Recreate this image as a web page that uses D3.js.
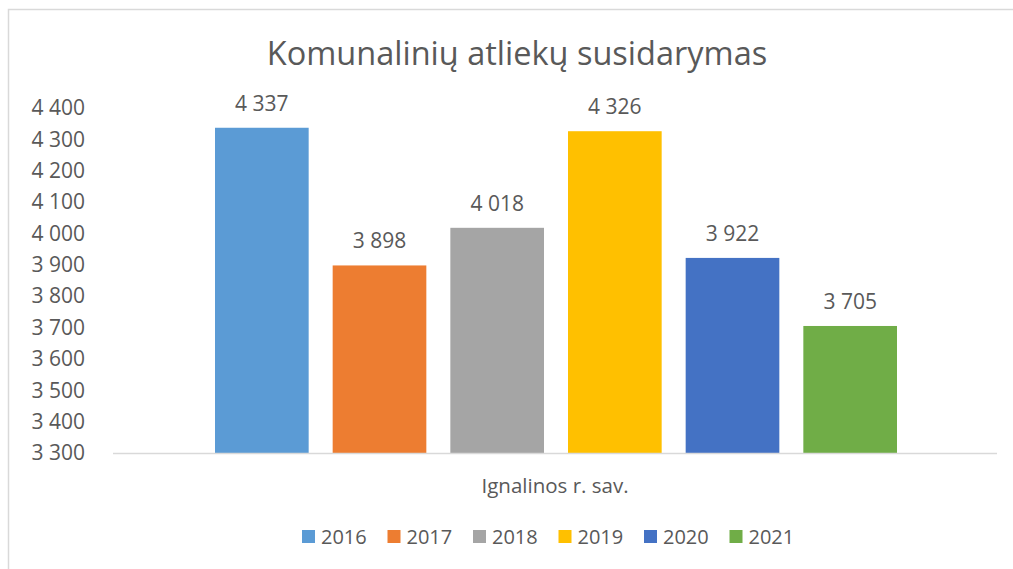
<!DOCTYPE html>
<html><head><meta charset="utf-8">
<script src="https://cdn.jsdelivr.net/npm/d3@7"></script>
<style>body{margin:0;background:#fff;} text{font-family:"Open Sans",sans-serif;fill:#595959;}</style>
</head><body>
<svg id="c" width="1013" height="569"></svg>
<script>
const title = "Komunalinių atliekų susidarymas";
const category = "Ignalinos r. sav.";
const years = ["2016","2017","2018","2019","2020","2021"];
const values = [4337, 3898, 4018, 4326, 3922, 3705];
const colors = ["#5B9BD5","#ED7D31","#A5A5A5","#FFC000","#4472C4","#70AD47"];
const yTicks = [3300,3400,3500,3600,3700,3800,3900,4000,4100,4200,4300,4400];

const fmt = v => d3.format(",")(v).replace(/,/g, " ");
const svg = d3.select("#c");
svg.append("rect").attr("x",8.5).attr("y",9.5).attr("width",1020).attr("height",580)
  .attr("fill","#fff").attr("stroke","#d9d9d9").attr("stroke-width",1.5);

const plotL = 113, plotR = 997;
const y = d3.scaleLinear().domain([3300,4400]).range([453,108]);
const x = d3.scaleBand().domain(years).range([203,909]).paddingInner(0.204).paddingOuter(0.102);

svg.append("text").attr("x",517).attr("y",65).attr("text-anchor","middle")
  .style("font-size","32.5px").text(title);

const yAxis = d3.axisLeft(y).tickValues(yTicks).tickFormat(fmt).tickSize(0).tickPadding(0);
const gy = svg.append("g").attr("transform","translate(85,0)").call(yAxis);
gy.select(".domain").remove();
gy.selectAll("text").style("font-size","21px").style("font-family","'Open Sans',sans-serif").attr("fill","#595959");

svg.selectAll("rect.bar").data(values).enter().append("rect").attr("class","bar")
  .attr("x",(d,i)=>x(years[i])).attr("width",x.bandwidth())
  .attr("y",d=>y(d)).attr("height",d=>y(3300)-y(d)).attr("fill",(d,i)=>colors[i]);

svg.append("line").attr("x1",plotL).attr("x2",plotR).attr("y1",y(3300)+0.5).attr("y2",y(3300)+0.5)
  .attr("stroke","#d9d9d9").attr("stroke-width",1.5);

svg.selectAll("text.lbl").data(values).enter().append("text").attr("class","lbl")
  .attr("x",(d,i)=>x(years[i])+x.bandwidth()/2).attr("y",d=>y(d)-17)
  .attr("text-anchor","middle").style("font-size","21px").text(fmt);

svg.append("text").attr("x",(plotL+plotR)/2).attr("y",493).attr("text-anchor","middle")
  .style("font-size","20.5px").text(category);

const lg = svg.append("g");
const lx = d3.scaleBand().domain(years).range([302, 302+85.5*6]);
years.forEach((yr,i)=>{
  lg.append("rect").attr("x",lx(yr)).attr("y",530).attr("width",13).attr("height",13).attr("fill",colors[i]);
  lg.append("text").attr("x",lx(yr)+19).attr("y",544).style("font-size","20px").text(yr);
});
</script>
</body></html>
